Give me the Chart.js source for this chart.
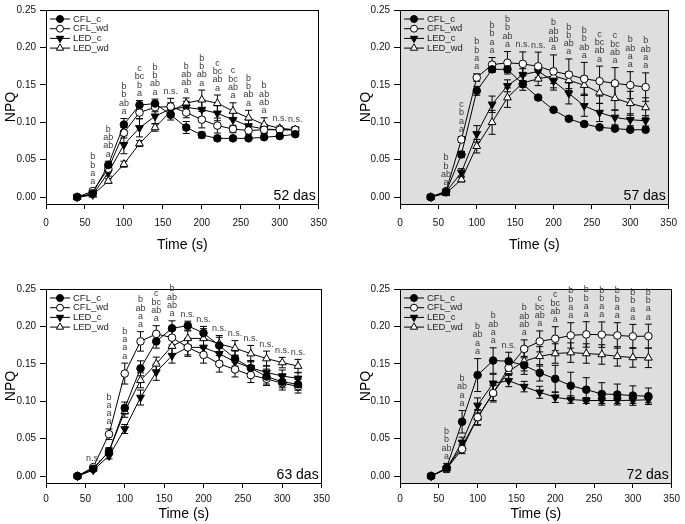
<!DOCTYPE html>
<html>
<head>
<meta charset="utf-8">
<script src="https://cdn.jsdelivr.net/npm/chart.js@4.4.1/dist/chart.umd.min.js"></script>
<style>
  body { margin: 0; background: #fff; width: 685px; height: 524px; position: relative; overflow: hidden; }
  .p { position: absolute; }
</style>
</head>
<body>
<div class="p" style="left:0;top:0;width:335px;height:256px"><canvas id="c52"></canvas></div>
<div class="p" style="left:355px;top:0;width:330px;height:256px"><canvas id="c57"></canvas></div>
<div class="p" style="left:0;top:279px;width:335px;height:245px"><canvas id="c63"></canvas></div>
<div class="p" style="left:355px;top:279px;width:330px;height:245px"><canvas id="c72"></canvas></div>
<script>
const times = [40, 60, 80, 100, 120, 140, 160, 180, 200, 220, 240, 260, 280, 300, 320]
const seriesNames = ['CFL_c', 'CFL_wd', 'LED_c', 'LED_wd']
const xTicks = [0, 50, 100, 150, 200, 250, 300, 350]
const yTicks = [0, 0.05, 0.10, 0.15, 0.20, 0.25]

// 52 das
const cflC52  = [0, .005, .043, .097, .123, .125, .110, .093, .083, .0785, .0785, .0785, .080, .0815, .084]
const cflWd52 = [0, .008, .038, .086, .113, .120, .121, .113, .1035, .0956, .091, .089, .090, .090, .090]
const ledC52  = [0, .003, .033, .070, .0925, .108, .118, .120, .117, .112, .1035, .095, .091, .090, .090]
const ledWd52 = [0, .003, .0215, .044, .0715, .093, .1145, .1255, .130, .1254, .115, .106, .097, .092, .090]
const errCflC52  = [0, .002, .005, .008, .006, .006, .007, .008, .004, .003, .002, .002, .002, .002, .002]
const errCflWd52 = [0, .003, .004, .007, .008, .006, .011, .007, .011, .010, .005, .005, .004, .003, .003]
const errLedC52  = [0, .002, .005, .012, .012, .010, .008, .008, .011, .010, .009, .008, .006, .003, .003]
const errLedWd52 = [0, .002, .003, .004, .004, .005, .006, .007, .013, .011, .011, .010, .009, .003, .004]
const letters52 = ['', 'b,b,a,a', 'b,ab,ab,a', 'b,b,ab,a', 'c,bc,b,a', 'b,b,ab,a', 'n.s.', 'b,ab,ab,a',
  'b,b,ab,a', 'c,bc,ab,a', 'c,bc,ab,a', 'b,b,ab,a', 'b,ab,ab,a', 'n.s.', 'n.s.']

// 57 das
const cflC57  = [0, .007, .057, .142, .1707, .1707, .151, .133, .1166, .1047, .0976, .0933, .0915, .090, .090]
const cflWd57 = [0, .008, .077, .1597, .177, .1795, .178, .1747, .168, .1636, .158, .155, .152, .1496, .147]
const ledC57  = [0, .007, .033, .0845, .124, .1487, .1636, .168, .155, .1385, .122, .113, .1065, .1034, .102]
const ledWd57 = [0, .005, .0234, .068, .0999, .1329, .1527, .158, .162, .156, .1496, .1394, .132, .1253, .1197]
const errCflC57  = [0, .001, .004, .006, .004, .004, .004, .003, .003, .003, .003, .002, .002, .002, .002]
const errCflWd57 = [0, .002, .004, .005, .0095, .015, .016, .019, .022, .021, .022, .020, .021, .018, .019]
const errLedC57  = [0, .002, .005, .011, .011, .008, .008, .008, .012, .014, .014, .012, .010, .008, .007]
const errLedWd57 = [0, .002, .003, .009, .016, .013, .010, .009, .010, .011, .012, .014, .016, .016, .013]
const letters57 = ['', 'b,b,ab,a', 'c,b,a,a', 'b,b,a,a', 'b,b,a,a', 'b,b,ab,a', 'n.s.', 'n.s.',
  'b,ab,ab,a', 'b,b,ab,a', 'b,b,ab,a', 'c,bc,ab,a', 'c,bc,ab,a', 'b,ab,a,a', 'b,ab,a,a']

// 63 das
const cflC63  = [0, .0097, .033, .091, .144, .180, .1975, .201, .191, .1745, .157, .1445, .133, .126, .1227]
const cflWd63 = [0, .012, .056, .137, .180, .190, .185, .172, .162, .150, .1425, .135, .130, .124, .120]
const ledC63  = [0, .008, .027, .063, .105, .139, .161, .172, .172, .1636, .1526, .1447, .1385, .1337, .1306]
const ledWd63 = [0, .010, .033, .0866, .128, .150, .1737, .184, .184, .1768, .171, .1636, .157, .1517, .147]
const errCflC63  = [0, .002, .005, .008, .010, .009, .010, .006, .009, .011, .010, .010, .010, .008, .008]
const errCflWd63 = [0, .002, .007, .014, .013, .011, .010, .012, .011, .011, .010, .010, .009, .009, .009]
const errLedC63  = [0, .002, .004, .006, .010, .011, .010, .010, .010, .010, .009, .009, .009, .008, .008]
const errLedWd63 = [0, .002, .004, .008, .010, .009, .010, .010, .013, .011, .010, .011, .010, .007, .009]
const letters63 = ['', 'n.s.', 'b,a,a,a', 'b,a,a,a', 'b,ab,a,a', 'c,bc,ab,a', 'b,ab,ab,a',
  'n.s.', 'n.s.', 'n.s.', 'n.s.', 'n.s.', 'n.s.', 'n.s.', 'n.s.']

// 72 das
const cflC72  = [0, .011, .0726, .135, .1544, .1535, .148, .138, .130, .1208, .1155, .1098, .109, .1076, .1067]
const cflWd72 = [0, .0097, .036, .0787, .111, .1447, .170, .180, .1836, .188, .1893, .189, .188, .1867, .187]
const ledC72  = [0, .010, .045, .0945, .124, .1275, .1196, .112, .1054, .1023, .101, .101, .101, .1013, .102]
const ledWd72 = [0, .010, .040, .078, .111, .140, .1535, .160, .1638, .165, .1638, .1625, .160, .1585, .158]
const errCflC72  = [0, .006, .015, .022, .017, .012, .012, .011, .018, .018, .016, .015, .014, .013, .011]
const errCflWd72 = [0, .003, .006, .010, .012, .010, .012, .014, .016, .017, .017, .017, .017, .016, .016]
const errLedC72  = [0, .003, .007, .010, .012, .008, .007, .008, .007, .005, .004, .004, .004, .004, .004]
const errLedWd72 = [0, .003, .006, .010, .010, .012, .013, .013, .013, .013, .013, .013, .013, .013, .013]
const letters72 = ['', 'b,b,ab,a', 'b,ab,a,a', 'b,ab,a,a', 'b,ab,a,a', 'n.s.', 'b,ab,ab,a', 'c,bc,ab,a',
  'c,bc,ab,a', 'b,b,a,a', 'b,b,a,a', 'b,b,a,a', 'b,b,a,a', 'b,b,a,a', 'b,b,a,a']

const sans = '"Liberation Sans", Arial, sans-serif'
Chart.defaults.font.family = sans
Chart.defaults.color = '#111'

const markers = [
  { style: 'circle', fill: '#000', rot: 0, r: 3.8 },
  { style: 'circle', fill: '#fff', rot: 0, r: 3.8 },
  { style: 'triangle', fill: '#000', rot: 180, r: 4.5 },
  { style: 'triangle', fill: '#fff', rot: 0, r: 4.5 },
]

const panelPlugin = {
  id: 'panel',
  beforeDraw(chart, args, o) {
    if (!o.gray) return
    const a = chart.chartArea, ctx = chart.ctx
    ctx.save()
    ctx.fillStyle = '#dedede'
    ctx.fillRect(a.left, a.top, a.right - a.left, a.bottom - a.top)
    ctx.restore()
  },
  beforeDatasetsDraw(chart) {
    const ctx = chart.ctx, ys = chart.scales.y
    ctx.save()
    ctx.strokeStyle = '#000'
    ctx.lineWidth = 1
    chart.data.datasets.forEach((ds, i) => {
      chart.getDatasetMeta(i).data.forEach((pt, j) => {
        const e = ds.err[j]
        if (!e) return
        const v = ds.data[j].y
        const t = ys.getPixelForValue(v + e), b = ys.getPixelForValue(v - e)
        ctx.beginPath()
        ctx.moveTo(pt.x, t); ctx.lineTo(pt.x, b)
        ctx.moveTo(pt.x - 3.5, t); ctx.lineTo(pt.x + 3.5, t)
        ctx.moveTo(pt.x - 3.5, b); ctx.lineTo(pt.x + 3.5, b)
        ctx.stroke()
      })
    })
    ctx.restore()
  },
  afterDraw(chart, args, o) {
    const a = chart.chartArea, ctx = chart.ctx, ys = chart.scales.y, xs = chart.scales.x
    ctx.save()
    ctx.strokeStyle = '#000'
    ctx.lineWidth = 1
    ctx.strokeRect(Math.round(a.left) + 0.5, Math.round(a.top) + 0.5, Math.round(a.right - a.left) - 1, Math.round(a.bottom - a.top))

    // legend
    ctx.font = '9.5px ' + sans
    ctx.textBaseline = 'middle'
    seriesNames.forEach((name, i) => {
      const y = a.top + 9 + i * 9.7, x0 = a.left + 4
      ctx.beginPath(); ctx.moveTo(x0, y); ctx.lineTo(x0 + 20, y); ctx.stroke()
      const m = markers[i]
      ctx.fillStyle = m.fill
      Chart.helpers.drawPoint(ctx, { pointStyle: m.style, rotation: m.rot, radius: m.r - 0.3, borderWidth: 1 }, x0 + 10, y)
      ctx.fillStyle = '#222'
      ctx.fillText(name, x0 + 23, y)
    })

    // day label
    ctx.font = '14px ' + sans
    ctx.fillStyle = '#000'
    ctx.textAlign = 'right'
    ctx.textBaseline = 'alphabetic'
    ctx.fillText(o.label, a.right - 3, a.bottom - 4)

    // significance letters
    ctx.font = '9px ' + sans
    ctx.fillStyle = '#3a3a3a'
    ctx.textAlign = 'center'
    ctx.textBaseline = 'middle'
    o.letters.forEach((s, j) => {
      if (!s) return
      let top = 0
      chart.data.datasets.forEach(ds => { top = Math.max(top, ds.data[j].y + ds.err[j]) })
      const px = xs.getPixelForValue(times[j])
      const py = ys.getPixelForValue(top) - 7
      const rows = s.split(',')
      rows.forEach((r, k) => ctx.fillText(r, px, py - (rows.length - 1 - k) * 8.3))
    })
    ctx.restore()
  }
}

function makePanel(id, vals, errs, letters, label, gray, opts) {
  const datasets = vals.map((v, i) => ({
    label: seriesNames[i],
    data: times.map((t, j) => ({ x: t, y: v[j] })),
    err: errs[i],
    borderColor: '#000',
    borderWidth: 1,
    backgroundColor: markers[i].fill,
    pointStyle: markers[i].style,
    pointRotation: markers[i].rot,
    pointRadius: markers[i].r,
    pointBorderWidth: 1,
    pointBorderColor: '#000',
    pointBackgroundColor: markers[i].fill,
    tension: 0,
    fill: false,
  }))
  new Chart(document.getElementById(id), {
    type: 'line',
    data: { datasets },
    options: {
      responsive: true,
      maintainAspectRatio: false,
      animation: false,
      layout: { padding: { top: 6, right: opts.right, left: 0, bottom: 0 } },
      plugins: {
        legend: { display: false },
        tooltip: { enabled: false },
        panel: { label, gray, letters },
      },
      scales: {
        x: {
          type: 'linear', min: 0, max: 350,
          afterBuildTicks: s => { s.ticks = xTicks.map(v => ({ value: v })) },
          afterFit: s => { s.height = opts.xh },
          ticks: { font: { size: 10 }, padding: opts.tp, maxRotation: 0, callback: v => String(v) },
          grid: { drawOnChartArea: false, tickLength: 5, color: '#000' },
          border: { color: '#000' },
          title: { display: true, text: 'Time (s)', font: { size: 14 }, padding: { top: 0, bottom: opts.tb }, color: '#000' },
        },
        y: {
          type: 'linear', min: -0.0092, max: 0.25,
          afterBuildTicks: s => { s.ticks = yTicks.map(v => ({ value: v })) },
          afterFit: s => { s.width = opts.yw },
          ticks: { font: { size: 10 }, padding: 4, callback: v => v.toFixed(2) },
          grid: { drawOnChartArea: false, tickLength: 6, color: '#000' },
          border: { color: '#000' },
          title: { display: true, text: 'NPQ', font: { size: 14 }, padding: { top: 3, bottom: 0 }, color: '#000' },
        }
      }
    },
    plugins: [panelPlugin]
  })
}

makePanel('c52', [cflC52, cflWd52, ledC52, ledWd52], [errCflC52, errCflWd52, errLedC52, errLedWd52], letters52, '52 das', false, { right: 10, yw: 46, xh: 52, tb: 2, tp: 8 })
makePanel('c57', [cflC57, cflWd57, ledC57, ledWd57], [errCflC57, errCflWd57, errLedC57, errLedWd57], letters57, '57 das', true, { right: 8, yw: 45, xh: 52, tb: 2, tp: 8 })
makePanel('c63', [cflC63, cflWd63, ledC63, ledWd63], [errCflC63, errCflWd63, errLedC63, errLedWd63], letters63, '63 das', false, { right: 10, yw: 46, xh: 41, tb: 1, tp: 5 })
makePanel('c72', [cflC72, cflWd72, ledC72, ledWd72], [errCflC72, errCflWd72, errLedC72, errLedWd72], letters72, '72 das', true, { right: 8, yw: 45, xh: 41, tb: 1, tp: 5 })
</script>
</body>
</html>
